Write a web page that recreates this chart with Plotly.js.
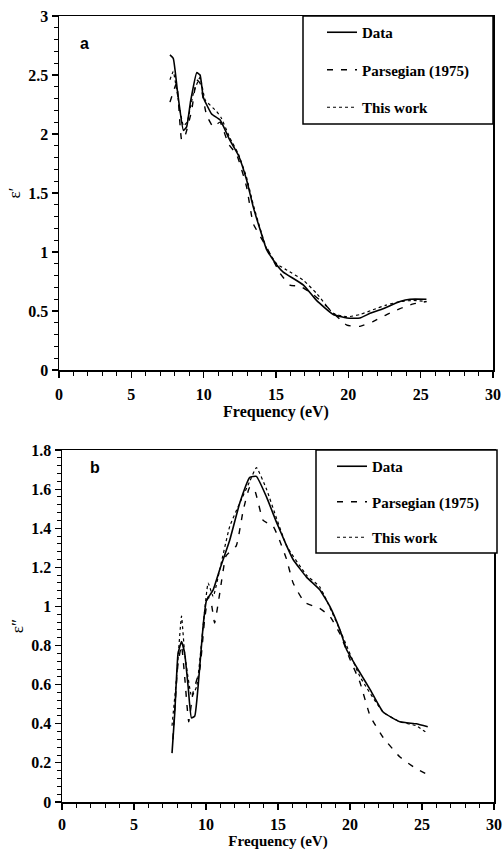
<!DOCTYPE html>
<html>
<head>
<meta charset="utf-8">
<script src="https://cdn.plot.ly/plotly-3.0.1.min.js"></script>
<style>html,body{margin:0;padding:0;background:#fff;}#chart{width:503px;height:850px;}</style>
</head>
<body>
<div id="chart"></div>
<script>
// ---- Panel a: epsilon' ----
const aDataX = [7.67, 7.9, 8.2, 8.6, 8.82, 9.1, 9.52, 9.75, 9.98, 10.55, 11.13, 11.8, 12.4, 12.97, 13.43, 13.9, 14.35, 15.05, 15.5, 16.9, 17.8, 18.96, 19.9, 20.8, 21.5, 22.4, 23.57, 24.26, 25.4];
const aDataY = [2.67, 2.64, 2.35, 2.03, 2.06, 2.28, 2.52, 2.50, 2.31, 2.17, 2.12, 1.95, 1.82, 1.61, 1.38, 1.19, 1.02, 0.89, 0.83, 0.72, 0.59, 0.47, 0.44, 0.44, 0.48, 0.52, 0.58, 0.60, 0.60];

const aParsX = [7.67, 8.13, 8.48, 8.7, 9.17, 9.52, 9.75, 10.2, 10.67, 11.13, 11.7, 12.3, 12.97, 13.43, 14.35, 15.28, 15.97, 16.66, 17.58, 18.4, 19.9, 20.8, 21.7, 22.65, 23.57, 24.5, 25.4];
const aParsY = [2.27, 2.43, 1.95, 1.98, 2.2, 2.46, 2.43, 2.16, 2.06, 2.10, 1.92, 1.82, 1.55, 1.24, 1.04, 0.82, 0.72, 0.71, 0.64, 0.55, 0.38, 0.37, 0.41, 0.47, 0.52, 0.56, 0.58];

const aWorkX = [7.67, 7.9, 8.1, 8.6, 8.85, 9.3, 9.75, 10.1, 10.9, 11.2, 11.8, 12.4, 12.97, 13.43, 13.9, 14.35, 15.05, 15.7, 16.9, 17.8, 18.96, 19.9, 20.8, 21.7, 22.6, 23.57, 24.5, 25.4];
const aWorkY = [2.46, 2.53, 2.40, 2.07, 2.10, 2.35, 2.48, 2.29, 2.19, 2.14, 1.97, 1.83, 1.63, 1.40, 1.20, 1.03, 0.90, 0.85, 0.76, 0.65, 0.48, 0.45, 0.47, 0.51, 0.55, 0.58, 0.59, 0.58];

// ---- Panel b: epsilon'' ----
const bDataX = [7.64, 7.83, 8.06, 8.3, 8.52, 8.76, 8.99, 9.22, 9.45, 9.8, 10.03, 10.5, 10.96, 11.65, 12.35, 13.04, 13.5, 14.2, 14.9, 15.6, 16.05, 16.98, 17.9, 18.6, 19.3, 19.76, 20.7, 21.4, 22.3, 23.47, 24.6, 25.4];
const bDataY = [0.25, 0.455, 0.76, 0.82, 0.76, 0.59, 0.43, 0.44, 0.59, 0.90, 1.03, 1.085, 1.19, 1.34, 1.53, 1.66, 1.665, 1.56, 1.43, 1.31, 1.24, 1.15, 1.085, 1.0, 0.88, 0.78, 0.66, 0.575, 0.46, 0.41, 0.40, 0.385];

const bParsX = [7.7, 8.06, 8.3, 8.52, 8.8, 9.1, 9.57, 9.9, 10.15, 10.38, 10.6, 10.96, 11.4, 12.1, 12.58, 13.04, 13.4, 13.97, 14.66, 15.1, 15.6, 16.05, 16.86, 17.9, 18.6, 19.3, 20.0, 20.7, 21.4, 22.3, 23.47, 24.6, 25.4];
const bParsY = [0.32, 0.71, 0.80, 0.64, 0.41, 0.56, 0.68, 0.93, 1.05, 1.01, 0.915, 1.07, 1.26, 1.31, 1.49, 1.61, 1.59, 1.44, 1.41, 1.34, 1.24, 1.12, 1.02, 0.99, 0.95, 0.86, 0.73, 0.61, 0.44, 0.33, 0.23, 0.17, 0.14];

const bWorkX = [7.64, 7.95, 8.3, 8.52, 9.0, 9.35, 9.8, 10.15, 10.5, 10.96, 11.65, 12.35, 13.04, 13.5, 14.2, 14.9, 15.6, 16.98, 17.9, 19.3, 20.7, 22.3, 23.47, 24.6, 25.4];
const bWorkY = [0.39, 0.63, 0.95, 0.76, 0.54, 0.59, 0.90, 1.12, 1.05, 1.19, 1.41, 1.53, 1.64, 1.71, 1.60, 1.45, 1.31, 1.16, 1.10, 0.88, 0.64, 0.46, 0.41, 0.39, 0.35];

const names = ['Data', 'Parsegian (1975)', 'This work'];
const dashes = ['solid', '6px,8px', 'dot'];
const widths = [1.6, 1.4, 1.2];

const serif = "'Liberation Serif', 'Times New Roman', 'DejaVu Serif', serif";
const sans = "'Liberation Sans', Arial, sans-serif";

function tr(x, y, i, axis, legend) {
  return {
    x: x, y: y, type: 'scatter', mode: 'lines', name: names[i],
    line: {color: '#000', dash: dashes[i], width: widths[i], shape: 'spline', smoothing: 0.4},
    xaxis: axis === 2 ? 'x2' : 'x', yaxis: axis === 2 ? 'y2' : 'y',
    legend: legend, legendgroup: legend + i, showlegend: true
  };
}

const traces = [
  tr(aDataX, aDataY, 0, 1, 'legend'),
  tr(aParsX, aParsY, 1, 1, 'legend'),
  tr(aWorkX, aWorkY, 2, 1, 'legend'),
  tr(bDataX, bDataY, 0, 2, 'legend2'),
  tr(bParsX, bParsY, 1, 2, 'legend2'),
  tr(bWorkX, bWorkY, 2, 2, 'legend2')
];

const W = 503, H = 850;
function px2x(p) { return p / W; }
function px2y(p) { return 1 - p / H; }

function tickFont() { return {family: serif, size: 16, color: '#000', weight: 'bold'}; }

function xax(domain, anchor, labelStandoff, titleSize) {
  return {
    domain: domain, anchor: anchor, range: [0, 30], dtick: 5, tick0: 0,
    showgrid: false, zeroline: false, showline: true, linecolor: '#000', linewidth: 1.5,
    mirror: true, ticks: 'outside', ticklen: 6, tickwidth: 1.2, tickcolor: '#000',
    ticklabelstandoff: labelStandoff,
    minor: {dtick: 1, ticks: 'outside', ticklen: 4, tickwidth: 1, tickcolor: '#000', showgrid: false},
    tickfont: tickFont(),
    title: {text: 'Frequency (eV)', font: {family: serif, size: titleSize, color: '#000', weight: 'bold'}, standoff: 3}
  };
}
function yax(domain, anchor, range, dtick, mdtick, title) {
  return {
    domain: domain, anchor: anchor, range: range, dtick: dtick, tick0: 0,
    showgrid: false, zeroline: false, showline: true, linecolor: '#000', linewidth: 1.5,
    mirror: true, ticks: 'outside', ticklen: 6, tickwidth: 1.2, tickcolor: '#000',
    minor: {dtick: mdtick, ticks: 'outside', ticklen: 4, tickwidth: 1, tickcolor: '#000', showgrid: false},
    tickfont: tickFont(),
    title: {text: title, font: {family: serif, size: 17, color: '#000'}, standoff: 3}
  };
}

const legendFont = {family: serif, size: 15, color: '#000', weight: 'bold'};

const layout = {
  width: W, height: H,
  margin: {l: 0, r: 0, t: 0, b: 0},
  paper_bgcolor: '#fff', plot_bgcolor: '#fff',
  xaxis: xax([px2x(59), px2x(493)], 'y', 3, 16),
  yaxis: yax([px2y(370), px2y(16)], 'x', [0, 3], 0.5, 0.1, 'ε′'),
  xaxis2: xax([px2x(62), px2x(494)], 'y2', 1, 15),
  yaxis2: yax([px2y(802), px2y(450)], 'x2', [0, 1.8], 0.2, 0.04, 'ε″'),
  legend: {
    x: px2x(322), y: px2y(16), xanchor: 'left', yanchor: 'top', xref: 'paper', yref: 'paper',
    bgcolor: 'rgba(0,0,0,0)', borderwidth: 0,
    font: legendFont, tracegroupgap: 15, itemwidth: 30
  },
  legend2: {
    x: px2x(332), y: px2y(450), xanchor: 'left', yanchor: 'top', xref: 'paper', yref: 'paper',
    bgcolor: 'rgba(0,0,0,0)', borderwidth: 0,
    font: legendFont, tracegroupgap: 13, itemwidth: 30
  },
  shapes: [
    {type: 'rect', xref: 'paper', yref: 'paper', x0: px2x(303), x1: px2x(493), y0: px2y(124), y1: px2y(16),
     line: {color: '#000', width: 1.5}, fillcolor: '#fff', layer: 'above'},
    {type: 'rect', xref: 'paper', yref: 'paper', x0: px2x(316), x1: px2x(497), y0: px2y(553), y1: px2y(450),
     line: {color: '#000', width: 1.5}, fillcolor: '#fff', layer: 'above'}
  ],
  annotations: [
    {text: 'a', x: px2x(78), y: px2y(33), xref: 'paper', yref: 'paper', showarrow: false,
     font: {family: sans, size: 16, color: '#000', weight: 'bold'}},
    {text: 'b', x: px2x(88), y: px2y(468), xref: 'paper', yref: 'paper', showarrow: false,
     font: {family: sans, size: 16, color: '#000', weight: 'bold'}}
  ],
  showlegend: true
};

Plotly.newPlot('chart', traces, layout, {staticPlot: true, displayModeBar: false});
</script>
</body>
</html>
